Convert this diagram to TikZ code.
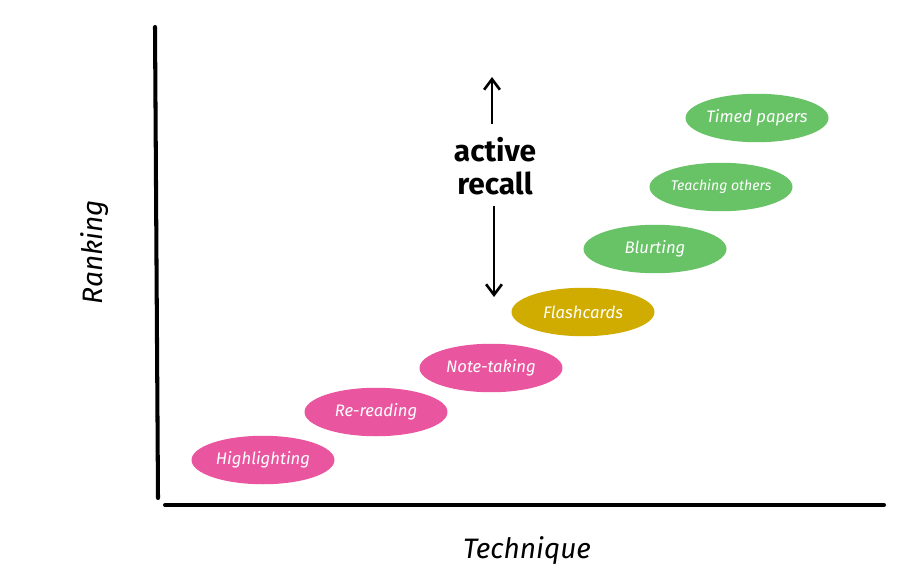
\documentclass[tikz,border=0pt]{standalone}
\usepackage{fontspec}
\setmainfont{Fira Sans}
\usetikzlibrary{shapes.geometric,arrows.meta}

\definecolor{rankpink}{HTML}{E9559E}
\definecolor{rankgreen}{HTML}{68C266}
\definecolor{rankgold}{HTML}{D1AC00}

\tikzset{
  blob/.style={ellipse,minimum width=2.86cm,minimum height=0.97cm,inner sep=0pt,
    inner xsep=-6pt,text=white,font=\fontsize{9.5}{11}\selectfont\itshape},
  axis/.style={line width=2.3pt,line cap=round},
  recallarrow/.style={line width=1.5pt,-{Straight Barb[length=6pt,width=9pt]}}
}

\begin{document}
\begin{tikzpicture}[x=0.02cm,y=-0.02cm]
                    \useasboundingbox (0,0) rectangle (918,581);

                    \draw[axis](155,27)--(158,498);
                    \draw[axis](165,505)--(884,505);

                    \node[blob,fill=rankpink] (highlight) at (263,460) {Highlighting};
                    \node[blob,fill=rankpink] (reread) at (376,412) {Re-reading};
                    \node[blob,fill=rankpink] (notes) at (491,368) {Note-taking};
                    \node[blob,fill=rankgold] (flash) at (583,312) {Flashcards};
                    \node[blob,fill=rankgreen] (blurt) at (655,249) {Blurting};
                    \node[blob,fill=rankgreen,font=\fontsize{8}{10}\selectfont\itshape] (teach) at (721,187) {Teaching others};
                    \node[blob,fill=rankgreen] (timed) at (757,118) {Timed papers};

                    \node[align=center,font=\fontsize{17}{19}\selectfont\bfseries] (recall) at (495,166) {active\\recall};
                    \coordinate (upfrom) at (492,124);
                    \coordinate (upto) at (492,77);
                    \coordinate (downfrom) at (494,206);
                    \coordinate (downto) at (494,297);
                    \draw[recallarrow] (upfrom)--(upto);
                    \draw[recallarrow] (downfrom)--(downto);

                    \node[rotate=90,font=\fontsize{16}{18}\selectfont\itshape] (ranking) at (95,252) {Ranking};
                    \node[font=\fontsize{16}{18}\selectfont\itshape] (technique) at (527,551) {Technique};
                \end{tikzpicture}
\end{document}
